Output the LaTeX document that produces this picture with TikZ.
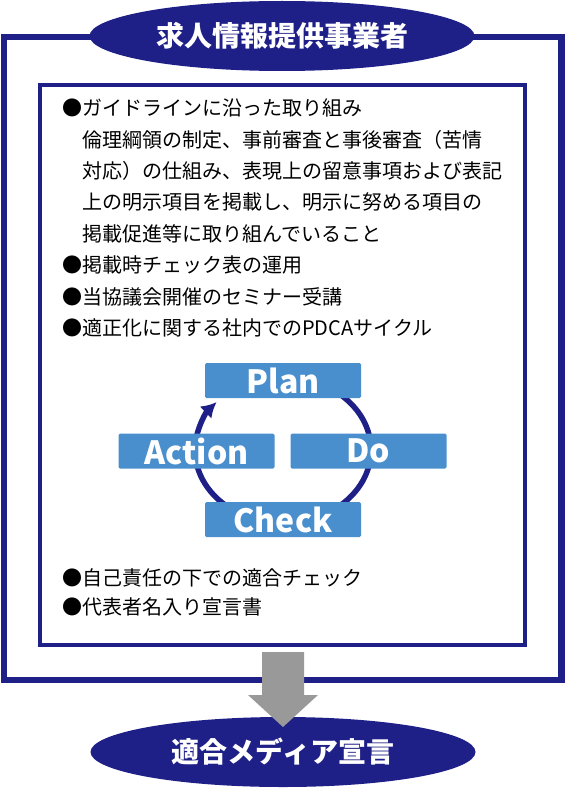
\documentclass[tikz,border=0pt]{standalone}
\usepackage{fontspec}
\setmainfont{Noto Sans CJK JP}
\usetikzlibrary{arrows.meta,shapes.geometric}
\definecolor{navy}{HTML}{1F2087}
\definecolor{pdcablue}{HTML}{4A8FCD}
\definecolor{arrowgray}{HTML}{999999}
\tikzset{
  banner/.style={shape=ellipse, fill=navy, text=white, inner sep=0pt,
    minimum width=385pt, minimum height=70pt,
    font=\bfseries\fontsize{28}{28}\selectfont},
  pdcabox/.style={shape=rectangle, fill=pdcablue, text=white, rounded corners=1.5pt,
    minimum width=156pt, minimum height=35pt, inner sep=0pt,
    font=\bfseries\fontsize{32}{32}\selectfont},
  bodyline/.style={anchor=base west, inner sep=0pt, font=\fontsize{20}{24}\selectfont},
}
\begin{document}
\begin{tikzpicture}[x=1pt,y=-1pt]
\useasboundingbox (0,0) rectangle (566,789);
% frames
\draw[navy, line width=6.5pt] (4,37) rectangle (561.5,680);
\draw[navy, line width=4pt, fill=white] (40,85) rectangle (525,645);
% banners
\node[banner] (top) at (282,36) {求人情報提供事業者};
\node[banner] (bottom) at (283,752) {適合メディア宣言};
% gray block arrow
\fill[arrowgray] (262,652) -- (304,652) -- (304,695) -- (318,695) -- (283,727)
  -- (248,695) -- (262,695) -- cycle;
% PDCA cycle
\draw[navy, line width=5.5pt, -{Latex[length=15pt,width=17pt]}]
  (283,450) ++(-50:88 and 73) arc[start angle=-50, end angle=221, x radius=88, y radius=73];
\node[pdcabox] (plan) at (283,380.5) {Plan};
\node[pdcabox] (do) at (368.5,451) {Do};
\node[pdcabox] (check) at (283,519.5) {Check};
\node[pdcabox] (action) at (196.5,451) {Action};
% text
\node[bodyline] (t1) at (62,115.6) {●ガイドラインに沿った取り組み};
\node[bodyline] (t2) at (82,147) {倫理綱領の制定、事前審査と事後審査（苦情};
\node[bodyline] (t3) at (82,178.5) {対応）の仕組み、表現上の留意事項および表記};
\node[bodyline] (t4) at (82,209.9) {上の明示項目を掲載し、明示に努める項目の};
\node[bodyline] (t5) at (82,241.3) {掲載促進等に取り組んでいること};
\node[bodyline] (t6) at (62,272.7) {●掲載時チェック表の運用};
\node[bodyline] (t7) at (62,304.2) {●当協議会開催のセミナー受講};
\node[bodyline] (t8) at (62,335.6) {●適正化に関する社内でのPDCAサイクル};
\node[bodyline] (t9) at (62,585.6) {●自己責任の下での適合チェック};
\node[bodyline] (t10) at (62,614.6) {●代表者名入り宣言書};
\end{tikzpicture}
\end{document}
